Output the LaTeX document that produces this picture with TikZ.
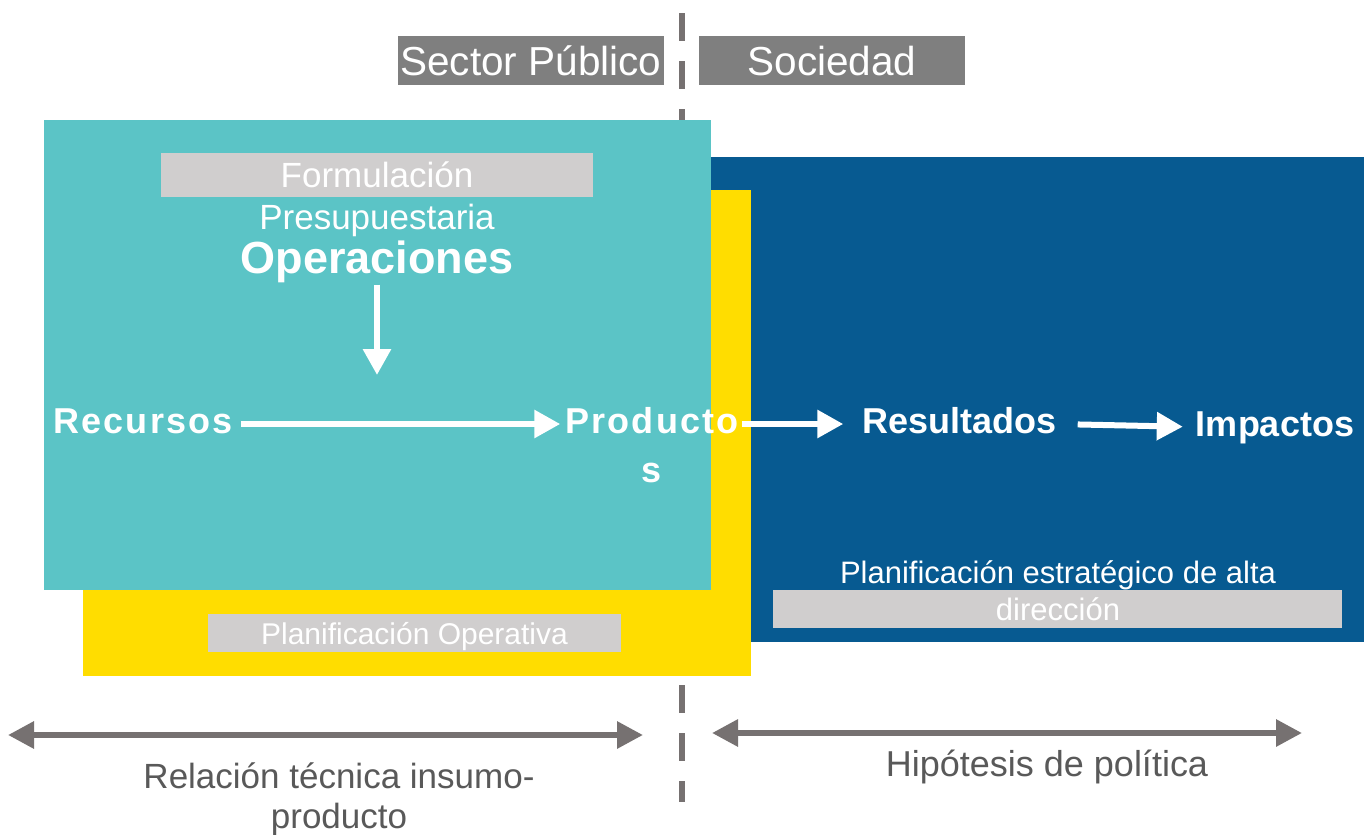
\documentclass[tikz,border=0pt]{standalone}
\usepackage{fontspec}
\setmainfont{Liberation Sans}
\newfontfamily\spacedfont[LetterSpace=6]{Liberation Sans}
\usetikzlibrary{arrows.meta,calc}
\definecolor{tealbox}{HTML}{5BC4C6}
\definecolor{bluebox}{HTML}{075A91}
\definecolor{yellowbox}{HTML}{FFDD00}
\definecolor{darklabel}{HTML}{7F7F7F}
\definecolor{lightlabel}{HTML}{D0CECE}
\definecolor{arrowgray}{HTML}{767171}
\definecolor{textgray}{HTML}{595959}
\begin{document}
\begin{tikzpicture}[x=1pt,y=-1pt,
  area/.style={inner sep=0pt, outer sep=0pt, anchor=north west},
  headlabel/.style={fill=darklabel, text=white, inner sep=0pt,
    font=\fontsize{40.5}{48}\selectfont, text height=29pt, text depth=0pt},
  softlabel/.style={fill=lightlabel, inner sep=0pt, outer sep=0pt},
  flowtext/.style={text=white, inner sep=0pt, anchor=base,
    font=\fontsize{36}{47}\selectfont\bfseries, text height=18pt, text depth=0pt},
  plaintext/.style={text=white, inner sep=0pt, anchor=base, align=center},
  flowarrow/.style={draw=white, line width=6pt,
    -{Triangle[length=26pt,width=27pt]}},
  spanarrow/.style={draw=arrowgray, line width=6pt,
    {Triangle[length=26pt,width=26pt]}-{Triangle[length=26pt,width=26pt]}},
  divider/.style={draw=arrowgray, line width=6pt, dash pattern=on 28pt off 20pt},
  bottomtext/.style={text=textgray, inner sep=0pt, anchor=base, align=center,
    font=\fontsize{35}{40}\selectfont}
]
\useasboundingbox (0,0) rectangle (1371,835);
\fill[white] (0,0) rectangle (1371,835);

% dashed divider
\coordinate (dtop) at (682,13);
\coordinate (dbot) at (682,802);
\draw[divider] (dtop) -- (dbot);

% coloured areas
\node[area, fill=bluebox, minimum width=653pt, minimum height=485pt] (blue) at (711,157) {};
\node[area, fill=yellowbox, minimum width=668pt, minimum height=486pt] (yellow) at (83,190) {};
\node[area, fill=tealbox, minimum width=667pt, minimum height=470pt] (teal) at (44,120) {};

% header labels
\node[headlabel, minimum width=266pt, minimum height=49pt] (sector) at (531,60.5) {Sector Público};
\node[headlabel, minimum width=266pt, minimum height=49pt] (soc) at (832,60.5) {Sociedad};

% grey bands behind texts
\node[softlabel, minimum width=432pt, minimum height=44pt] (formband) at (377,175) {};
\node[softlabel, minimum width=569pt, minimum height=38pt] (dirband) at (1057.5,609) {};
\node[softlabel, minimum width=413pt, minimum height=38pt, text=white,
  font=\fontsize{30}{36}\selectfont, text height=22pt, text depth=0pt] (planop) at (414.5,633) {Planificación Operativa};

% texts (multi-line nodes: base = last line)
\node[plaintext, font=\fontsize{35}{42}\selectfont, text depth=4pt] (formtext) at (377,229) {Formulación\\Presupuestaria};
\node[text=white, inner sep=0pt, anchor=base, font=\fontsize{45}{50}\selectfont\bfseries,
  text height=31pt] (oper) at (377,273) {Operaciones};
\node[plaintext, font=\fontsize{31}{37}\selectfont] (planest) at (1058,620) {Planificación estratégico de alta\\dirección};

\node[flowtext, font=\fontsize{36}{47}\selectfont\bfseries\spacedfont] (rec) at (143,433) {Recursos};
\node[flowtext, align=center, font=\fontsize{36}{49}\selectfont\bfseries\spacedfont] (prod) at (652,482) {Producto\\s};
\node[flowtext] (res) at (959.5,433) {Resultados};
\node[flowtext] (imp) at (1275,436) {Impactos};

% flow arrows
\coordinate (downend) at (377,375);
\draw[flowarrow, shorten <=2pt] (oper.south) -- (downend);
\draw[flowarrow, shorten <=8pt, shorten >=5pt] (rec.east) -- (rec.east -| prod.west);
\draw[flowarrow, shorten <=3pt, shorten >=19pt] (prod.east |- res.west) -- (res.west);
\draw[flowarrow, shorten <=21pt, shorten >=13pt] (res.east) -- (imp.west);

% bottom spans
\coordinate (la) at (8,735);
\coordinate (lb) at (643,735);
\coordinate (ra) at (712,733);
\coordinate (rb) at (1302,733);
\draw[spanarrow] (la) -- (lb);
\draw[spanarrow] (ra) -- (rb);
\node[bottomtext] (reltext) at (339,828) {Relación técnica insumo-\\producto};
\node[bottomtext, font=\fontsize{36}{42}\selectfont] (hiptext) at (1047,776) {Hipótesis de política};
\end{tikzpicture}
\end{document}
